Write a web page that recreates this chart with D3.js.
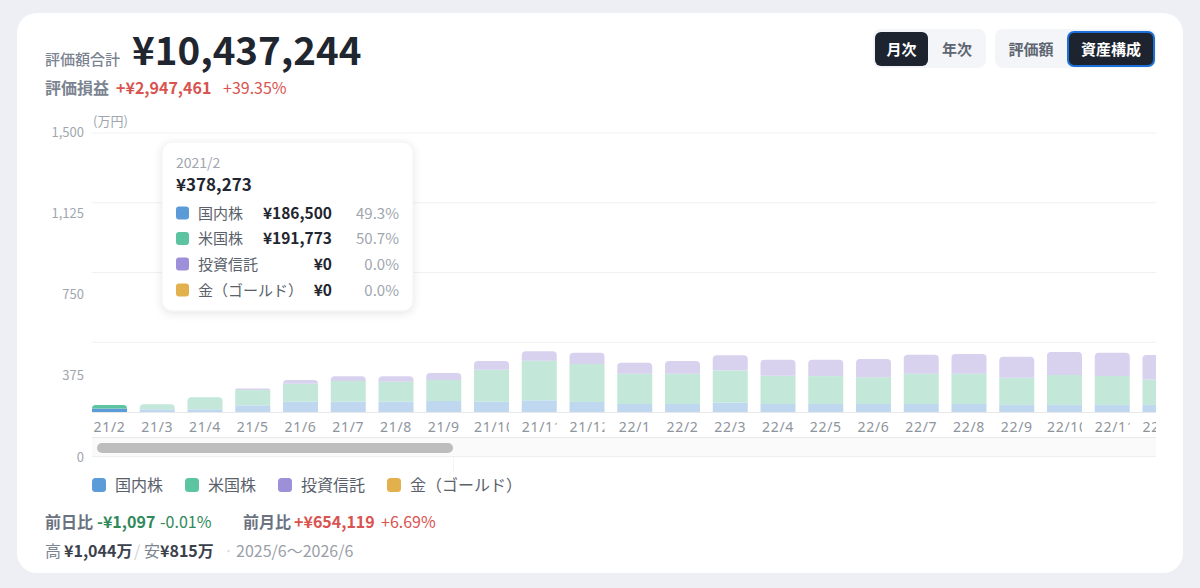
<!DOCTYPE html>
<html><head><meta charset="utf-8">
<script src="https://cdn.jsdelivr.net/npm/d3@7/dist/d3.min.js"></script>
<style>
html,body{margin:0;padding:0;background:#edeff5;}
svg{display:block;font-family:"Noto Sans CJK JP","Noto Sans",sans-serif;}
</style></head>
<body><svg id="c" width="1200" height="588"></svg>
<script>
// ---- data (万円) ----
const months = ["21/2","21/3","21/4","21/5","21/6","21/7","21/8","21/9","21/10","21/11","21/12","22/1","22/2","22/3","22/4","22/5","22/6","22/7","22/8","22/9","22/10","22/11","22/12"];
const domestic = [18.65,14.5,14.5,36,55,55,55,59,55,63,54,43,43,50,43,43,43,43,43,38,38,38,38];
const usStocks = [19.1773,27,64.5,82,97,112,108,113,172,213,204,163,163,174,152,150,144,163,163,146,161,156,137];
const funds    = [0,0,0,9,20,25,29,38,47,50,61,59,68,81,86,88,98,102,106,113,124,125,131];
const gold     = [0,0,0,0,0,0,0,0,0,0,0,0,0,0,0,0,0,0,0,0,0,0,0];
const seriesNames = ["国内株","米国株","投資信託","金（ゴールド）"];
const yTicks = [0,375,750,1125,1500];
const yTickLabels = ["0","375","750","1,125","1,500"];
const activeIndex = 0;

const fullColors = ["#5b9bd8","#5cc4a0","#9d90d8","#e3b04e"];
const fadeColors = ["#c0d8ef","#c3e8da","#d9d2ef","#f3e2bd"];

const svg = d3.select("#c");
const defs = svg.append("defs");
const sh = defs.append("filter").attr("id","sh").attr("x","-20%").attr("y","-20%").attr("width","140%").attr("height","150%");
sh.append("feDropShadow").attr("dx",0).attr("dy",2).attr("stdDeviation",4).attr("flood-color","#000").attr("flood-opacity",0.10);

// card
svg.append("rect").attr("x",17).attr("y",13).attr("width",1166).attr("height",560).attr("rx",20).attr("fill","#fff");

// header
const hdr = svg.append("g");
hdr.append("text").attr("x",45).attr("y",65).attr("font-size",15).attr("font-weight",500).attr("fill","#7b8390").text("評価額合計");
hdr.append("text").attr("x",132).attr("y",65).attr("font-size",38.5).attr("font-weight",700).attr("fill","#1f2630").text("¥10,437,244");
const l2 = hdr.append("text").attr("y",94).attr("font-size",16);
l2.append("tspan").attr("x",45).attr("font-weight",700).attr("fill","#7b8390").text("評価損益");
l2.append("tspan").attr("x",116).attr("font-weight",600).attr("fill","#d9534f").text("+¥2,947,461");
l2.append("tspan").attr("x",223).attr("font-weight",400).attr("fill","#d9534f").text("+39.35%");

// buttons
const btn = svg.append("g").attr("font-size",15).attr("font-weight",700).attr("text-anchor","middle");
btn.append("rect").attr("x",873).attr("y",29).attr("width",113).attr("height",39).attr("rx",8).attr("fill","#f3f5f8");
btn.append("rect").attr("x",875).attr("y",32).attr("width",53).attr("height",34).attr("rx",6).attr("fill","#1d2430");
btn.append("text").attr("x",901.5).attr("y",55).attr("fill","#fff").text("月次");
btn.append("text").attr("x",957).attr("y",55).attr("fill","#5f6672").text("年次");
btn.append("rect").attr("x",995).attr("y",29).attr("width",161).attr("height",39).attr("rx",8).attr("fill","#f3f5f8");
btn.append("text").attr("x",1031).attr("y",55).attr("fill","#5f6672").text("評価額");
btn.append("rect").attr("x",1068).attr("y",32).attr("width",86).attr("height",34).attr("rx",6).attr("fill","#1d2430").attr("stroke","#1b6fd8").attr("stroke-width",2);
btn.append("text").attr("x",1111).attr("y",55).attr("fill","#fff").text("資産構成");

// scales
const plotL = 92, plotR = 1156, baseY = 412, topY = 133;
const y = d3.scaleLinear().domain([0,1500]).range([baseY, topY]);
const yLab = d3.scaleLinear().domain([0,1500]).range([457, 132]);
const step = 47.75, bw = 35;
const x = d3.scaleBand().domain(months).range([plotL, plotL + step*months.length - (step-bw)]).paddingInner((step-bw)/step).paddingOuter(0);

// gridlines
svg.append("g").selectAll("line").data(yTicks.filter(d=>d>0)).join("line")
  .attr("x1",plotL).attr("x2",plotR).attr("y1",d=>y(d)).attr("y2",d=>y(d)).attr("stroke","#eff1f4").attr("stroke-width",1);

// y axis labels
const yAx = svg.append("g").attr("transform",`translate(84,0)`)
  .call(d3.axisLeft(yLab).tickValues(yTicks).tickFormat((d,i)=>yTickLabels[i]).tickSize(0).tickPadding(0));
yAx.select(".domain").remove();
yAx.selectAll("text").attr("font-size",13).attr("fill","#a0a6ae").attr("font-family","'Noto Sans CJK JP','Noto Sans',sans-serif");
svg.append("text").attr("x",93).attr("y",126).attr("font-size",13).attr("fill","#a0a6ae").text("(万円)");

// clip
defs.append("clipPath").attr("id","plotclip").append("rect").attr("x",plotL).attr("y",100).attr("width",plotR-plotL).attr("height",340);

// stacked data
const table = months.map((m,i)=>({m, v:[domestic[i],usStocks[i],funds[i],gold[i]]}));
const barG = svg.append("g").attr("clip-path","url(#plotclip)");
function topRounded(x0,y0,w,h,r){
  r=Math.min(r,h,w/2);
  return `M${x0},${y0+h}V${y0+r}Q${x0},${y0} ${x0+r},${y0}H${x0+w-r}Q${x0+w},${y0} ${x0+w},${y0+r}V${y0+h}Z`;
}
table.forEach((d,i)=>{
  let acc=0;
  const lastIdx = d.v.reduce((a,v,k)=>v>0?k:a,-1);
  d.v.forEach((v,k)=>{
    if(v<=0){return;}
    const y1=y(acc), y2=y(acc+v); acc+=v;
    const col = i===activeIndex?fullColors[k]:fadeColors[k];
    const x0=x(d.m);
    if(k===lastIdx){
      barG.append("path").attr("d",topRounded(x0,y2,x.bandwidth(),y1-y2,4)).attr("fill",col);
    } else {
      barG.append("rect").attr("x",x0).attr("y",y2).attr("width",x.bandwidth()).attr("height",y1-y2).attr("fill",col);
    }
  });
});

// x axis line
svg.append("line").attr("x1",plotL).attr("x2",plotR).attr("y1",baseY+0.5).attr("y2",baseY+0.5).attr("stroke","#e6e8ec");

// x labels: centred, or left-aligned and clipped when wider than the band
const xl = svg.append("g").attr("clip-path","url(#plotclip)");
months.forEach((m,i)=>{
  const id="lc"+i;
  defs.append("clipPath").attr("id",id).append("rect").attr("x",x(m)).attr("y",412).attr("width",x.bandwidth()).attr("height",24);
  const t = xl.append("text").attr("clip-path",`url(#${id})`).attr("y",432)
    .attr("font-size",14).attr("fill","#8e949c").attr("font-family","'Noto Sans','Noto Sans CJK JP',sans-serif").attr("letter-spacing",0.7).text(m);
  const w = t.node().getComputedTextLength();
  if(w > x.bandwidth()){
    t.attr("x",x(m)).attr("text-anchor","start");
  } else {
    t.attr("x",x(m)+x.bandwidth()/2).attr("text-anchor","middle");
  }
});

// slider
svg.append("rect").attr("x",plotL).attr("y",437).attr("width",plotR-plotL).attr("height",20).attr("fill","#fafafb");
svg.append("line").attr("x1",plotL).attr("x2",plotR).attr("y1",437.5).attr("y2",437.5).attr("stroke","#e5e7ea");
svg.append("line").attr("x1",plotL).attr("x2",plotR).attr("y1",456.5).attr("y2",456.5).attr("stroke","#eceef0");
svg.append("rect").attr("x",97).attr("y",443).attr("width",356).attr("height",10).attr("rx",5).attr("fill","#bdbdbd");
svg.append("line").attr("x1",453.5).attr("x2",453.5).attr("y1",457).attr("y2",472).attr("stroke","#f3f4f6");

// legend
const legX=[92,185,278,387];
const lg = svg.append("g");
seriesNames.forEach((n,k)=>{
  lg.append("rect").attr("x",legX[k]).attr("y",478).attr("width",14).attr("height",14).attr("rx",3.5).attr("fill",fullColors[k]);
  lg.append("text").attr("x",legX[k]+23).attr("y",491).attr("font-size",16).attr("fill","#5a616b").text(n);
});

// footer
const f1 = svg.append("text").attr("y",528).attr("font-size",16);
f1.append("tspan").attr("x",45).attr("font-weight",700).attr("fill","#6b7280").text("前日比");
f1.append("tspan").attr("x",97).attr("font-weight",600).attr("fill","#2f8a5a").text("-¥1,097");
f1.append("tspan").attr("x",160).attr("font-weight",400).attr("fill","#2f8a5a").text("-0.01%");
f1.append("tspan").attr("x",243).attr("font-weight",700).attr("fill","#6b7280").text("前月比");
f1.append("tspan").attr("x",294).attr("font-weight",600).attr("fill","#d9534f").text("+¥654,119");
f1.append("tspan").attr("x",381).attr("font-weight",400).attr("fill","#d9534f").text("+6.69%");
const f2 = svg.append("text").attr("y",557).attr("font-size",16);
f2.append("tspan").attr("x",45).attr("fill","#7b8390").text("高");
f2.append("tspan").attr("x",64).attr("font-weight",700).attr("fill","#3a414c").text("¥1,044万");
f2.append("tspan").attr("x",134).attr("fill","#cdd1d6").text("/");
f2.append("tspan").attr("x",144).attr("fill","#7b8390").text("安");
f2.append("tspan").attr("x",160).attr("font-weight",700).attr("fill","#3a414c").text("¥815万");
f2.append("tspan").attr("x",224).attr("fill","#d6d9dd").text("·");
f2.append("tspan").attr("x",236).attr("fill","#9aa0a8").text("2025/6〜2026/6");

// tooltip
const a = table[activeIndex];
const total = d3.sum(a.v);
const fmt = v=>"¥"+d3.format(",")(Math.round(v*10000));
const tt = svg.append("g");
tt.append("rect").attr("x",162).attr("y",142).attr("width",251).attr("height",169).attr("rx",10).attr("fill","#fff").attr("stroke","#f0f1f3").attr("filter","url(#sh)");
tt.append("text").attr("x",176).attr("y",168).attr("font-size",14).attr("fill","#a0a6ae").text("20"+a.m);
tt.append("text").attr("x",176).attr("y",191).attr("font-size",17).attr("font-weight",700).attr("fill","#1f2630").text(fmt(total));
const rowY=[213,238.5,264,290];
seriesNames.forEach((n,k)=>{
  tt.append("rect").attr("x",176).attr("y",rowY[k]-6.5).attr("width",13).attr("height",13).attr("rx",3).attr("fill",fullColors[k]);
  tt.append("text").attr("x",198).attr("y",rowY[k]+5.5).attr("font-size",15).attr("fill","#5a616b").text(n);
  tt.append("text").attr("x",332).attr("y",rowY[k]+5.5).attr("text-anchor","end").attr("font-size",15.5).attr("font-weight",700).attr("fill","#1f2630").text(fmt(a.v[k]));
  tt.append("text").attr("x",399).attr("y",rowY[k]+5.5).attr("text-anchor","end").attr("font-size",15).attr("fill","#a0a6ae").text(d3.format(".1f")(a.v[k]/total*100)+"%");
});
</script></body></html>
